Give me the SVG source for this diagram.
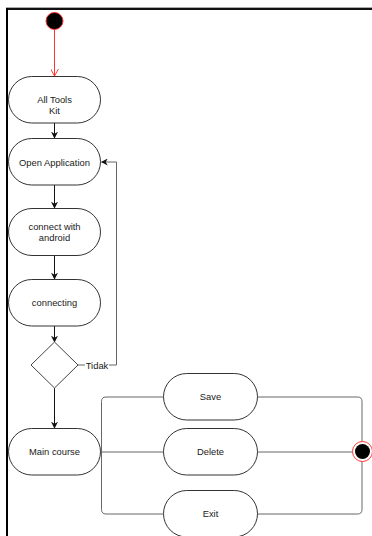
<svg xmlns="http://www.w3.org/2000/svg" width="372" height="536" viewBox="0 0 372 536">
  <style>
    .node { fill: #ffffff; stroke: #333333; stroke-width: 1; }
    .label { font-family: "Liberation Sans", Arial, sans-serif; font-size: 9.4px; fill: #1a1a1a; text-anchor: middle; }
    .flow { fill: none; stroke: #111111; stroke-width: 1; }
    .branch { fill: none; stroke: #666666; stroke-width: 1; }
  </style>
  <defs>
    <marker id="arrow" viewBox="0 0 10 10" refX="9" refY="5" markerWidth="7" markerHeight="7" orient="auto" markerUnits="userSpaceOnUse">
      <path d="M0,0 L10,5 L0,10 L3,5 Z" fill="#111111"/>
    </marker>
    <marker id="arrowOpen" viewBox="0 0 10 10" refX="9" refY="5" markerWidth="8" markerHeight="8" orient="auto" markerUnits="userSpaceOnUse">
      <path d="M0,0 L9,5 L0,10" fill="none" stroke="#ff3333" stroke-width="1.2"/>
    </marker>
  </defs>

  <rect width="372" height="536" fill="#ffffff"/>

  <!-- frame -->
  <g id="frame">
    <line x1="6" y1="7.5" x2="372" y2="7.5" stroke="#aaaaaa" stroke-width="1"/>
    <line x1="6" y1="9" x2="372" y2="9" stroke="#111111" stroke-width="2"/>
    <line x1="7" y1="8" x2="7" y2="536" stroke="#000000" stroke-width="2"/>
  </g>

  <!-- connectors -->
  <g id="connectors">
    <line x1="54.5" y1="30" x2="54.5" y2="76" stroke="#ff3333" stroke-width="1" marker-end="url(#arrowOpen)"/>
    <line class="flow" x1="54.5" y1="123" x2="54.5" y2="138" marker-end="url(#arrow)"/>
    <line class="flow" x1="54.5" y1="185" x2="54.5" y2="208" marker-end="url(#arrow)"/>
    <line class="flow" x1="54.5" y1="256" x2="54.5" y2="279" marker-end="url(#arrow)"/>
    <line class="flow" x1="54.5" y1="326" x2="54.5" y2="342" marker-end="url(#arrow)"/>
    <line class="flow" x1="54.5" y1="388" x2="54.5" y2="428" marker-end="url(#arrow)"/>
    <!-- loop back to Open Application -->
    <path class="branch" d="M78,365 H116.5 V162 H101.5" marker-end="url(#arrow)"/>
    <!-- fork from Main course -->
    <path class="branch" d="M101.5,452 H163"/>
    <path class="branch" d="M163,397 H106 Q101.5,397 101.5,401.5 V509.5 Q101.5,514 106,514 H163"/>
    <!-- merge into end -->
    <path class="branch" d="M258,452 H353"/>
    <path class="branch" d="M258,397 H357.5 Q362,397 362,401.5 V442"/>
    <path class="branch" d="M258,514 H357.5 Q362,514 362,509.5 V461"/>
    <rect x="85" y="358" width="24" height="12" fill="#ffffff"/>
    <text class="label" x="97" y="368.5">Tidak</text>
  </g>

  <g id="start">
    <circle cx="54.5" cy="21" r="8.5" fill="#000000" stroke="#ff3333" stroke-width="1"/>
  </g>

  <g id="all-tools-kit">
    <rect class="node" x="8.5" y="76.5" width="92" height="46.5" rx="23.25"/>
    <text class="label" x="54.5" y="103">All Tools</text>
    <text class="label" x="54.5" y="114">Kit</text>
  </g>

  <g id="open-application">
    <rect class="node" x="8.5" y="138.5" width="92" height="46.5" rx="23.25"/>
    <text class="label" x="54.5" y="165.5">Open Application</text>
  </g>

  <g id="connect-with-android">
    <rect class="node" x="8.5" y="208.5" width="92" height="47" rx="23.5"/>
    <text class="label" x="54.5" y="230">connect with</text>
    <text class="label" x="54.5" y="241">android</text>
  </g>

  <g id="connecting">
    <rect class="node" x="8.5" y="279.5" width="92" height="46.5" rx="23.25"/>
    <text class="label" x="54.5" y="306">connecting</text>
  </g>

  <g id="decision">
    <polygon points="54.5,342 78,365 54.5,388 31,365" fill="#ffffff" stroke="#444444" stroke-width="1"/>
  </g>

  <g id="main-course">
    <rect class="node" x="8.5" y="428.5" width="92" height="46.5" rx="23.25"/>
    <text class="label" x="54.5" y="455">Main course</text>
  </g>

  <g id="save">
    <rect class="node" x="163.5" y="373.5" width="94" height="46.5" rx="23.25"/>
    <text class="label" x="210.5" y="400">Save</text>
  </g>

  <g id="delete">
    <rect class="node" x="163.5" y="428.5" width="94" height="46.5" rx="23.25"/>
    <text class="label" x="210.5" y="455">Delete</text>
  </g>

  <g id="exit">
    <rect class="node" x="163.5" y="490.5" width="94" height="46.5" rx="23.25"/>
    <text class="label" x="210.5" y="517">Exit</text>
  </g>

  <g id="end">
    <circle cx="362.5" cy="451.5" r="10" fill="#ffffff" stroke="#ff3333" stroke-width="1"/>
    <circle cx="362.5" cy="451.5" r="7.5" fill="#000000"/>
  </g>
</svg>
